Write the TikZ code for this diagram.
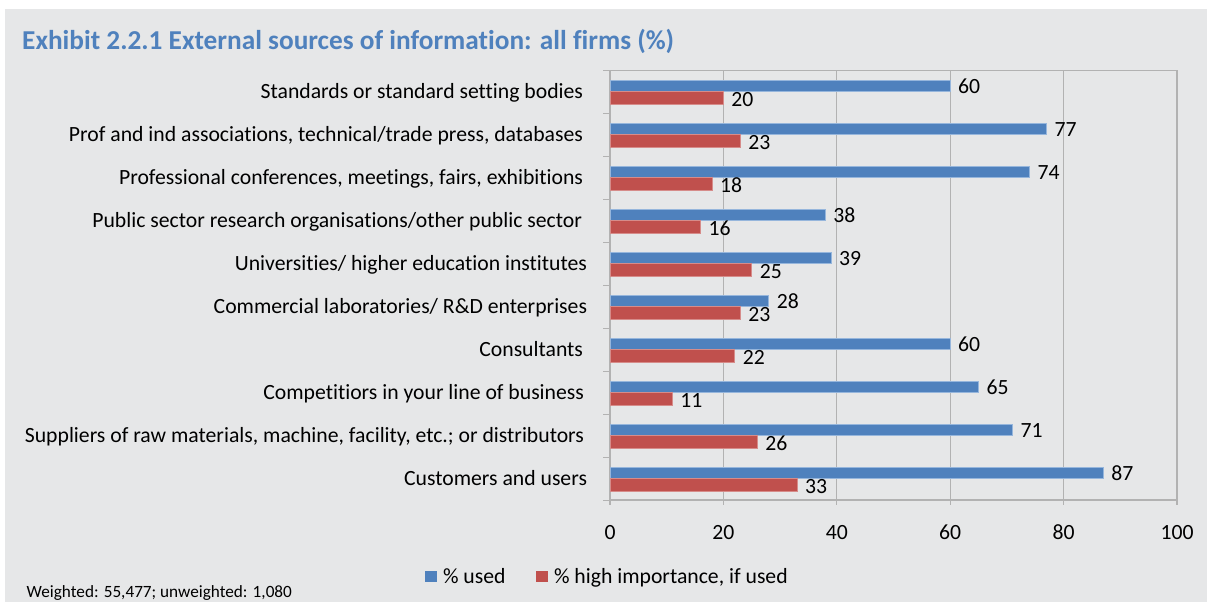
\documentclass[tikz,border=0pt]{standalone}
\usepackage{fontspec}
\setmainfont{Carlito}[Ligatures=NoCommon]
\definecolor{bgc}{RGB}{230,231,232}
\definecolor{usedc}{RGB}{79,129,189}
\definecolor{usededge}{RGB}{150,182,220}
\definecolor{highc}{RGB}{192,80,77}
\definecolor{highedge}{RGB}{214,140,138}
\definecolor{gridc}{RGB}{178,178,178}
\definecolor{titlec}{RGB}{79,129,189}
\newcommand{\catrow}[5]{%
  \pgfmathsetmacro{\ctop}{70.5+43*#1}%
  \pgfmathsetmacro{\bend}{610+5.67*#3}%
  \pgfmathsetmacro{\rend}{610+5.67*#4}%
  \filldraw[usedbar] (610,\ctop+9.5) rectangle (\bend,\ctop+21.3);
  \filldraw[highbar] (610,\ctop+21.3) rectangle (\rend,\ctop+33.5);
  \node[txt,anchor=base east] (cat#1) at (#5,\ctop+28.2) {#2};
  \node[txt,anchor=base west] (vu#1) at (\bend+8,\ctop+23.2) {#3};
  \node[txt,anchor=base west] (vh#1) at (\rend+8,\ctop+36) {#4};
}
\begin{document}
\begin{tikzpicture}[x=1pt,y=-1pt,
  txt/.style={inner sep=0pt,outer sep=0pt,text=black,font=\fontsize{21.7}{25}\selectfont},
  gridline/.style={draw=gridc,line width=1.3pt},
  usedbar/.style={fill=usedc,draw=usededge,line width=0.7pt},
  highbar/.style={fill=highc,draw=highedge,line width=0.7pt}]
\useasboundingbox (0,0) rectangle (1207,607);
\fill[white] (0,0) rectangle (1207,607);
\fill[bgc] (5,9) rectangle (1207,602);
% title
\node[anchor=base west,inner sep=0pt,text=titlec,font=\bfseries\fontsize{27.3}{32}\selectfont] (title) at (22,50) {Exhibit 2.2.1 External sources of information: all firms (\%)};
% grid and axes
\foreach \v in {20,40,60,80,100} {
  \draw[gridline] ({610+5.67*\v},70.5) -- ({610+5.67*\v},500);
}
\draw[gridline] (610,70.5) -- (1177,70.5);
\draw[gridline] (610,70.5) -- (610,500) -- (1177,500);
\foreach \i in {0,...,10} {
  \draw[gridline] (603,{70.5+43*\i}) -- (610,{70.5+43*\i});
}
\foreach \v in {0,20,40,60,80,100} {
  \draw[gridline] ({610+5.67*\v},500) -- ({610+5.67*\v},505);
  \node[txt,anchor=base] (tk\v) at ({610+5.67*\v},539.5) {\v};
}
% bars
\catrow{0}{Standards or standard setting bodies}{60}{20}{583}
\catrow{1}{Prof and ind associations, technical/trade press, databases}{77}{23}{583}
\catrow{2}{Professional conferences, meetings, fairs, exhibitions}{74}{18}{583}
\catrow{3}{Public sector research organisations/other public sector}{38}{16}{582}
\catrow{4}{Universities/ higher education institutes}{39}{25}{587}
\catrow{5}{Commercial laboratories/ R\&D enterprises}{28}{23}{587}
\catrow{6}{Consultants}{60}{22}{583}
\catrow{7}{Competitiors in your line of business}{65}{11}{584}
\catrow{8}{Suppliers of raw materials, machine, facility, etc.; or distributors}{71}{26}{584}
\catrow{9}{Customers and users}{87}{33}{587}
% legend
\fill[usedc] (425,571) rectangle (437,582);
\node[txt,anchor=base west] (lg1) at (443,583.5) {\% used};
\fill[highc] (536,571) rectangle (548,582);
\node[txt,anchor=base west] (lg2) at (554,583.5) {\% high importance, if used};
% footer
\node[anchor=base west,inner sep=0pt,text=black,font=\fontsize{17.2}{20}\selectfont] (foot) at (26.5,597) {Weighted: 55,477; unweighted: 1,080};
\end{tikzpicture}
\end{document}
